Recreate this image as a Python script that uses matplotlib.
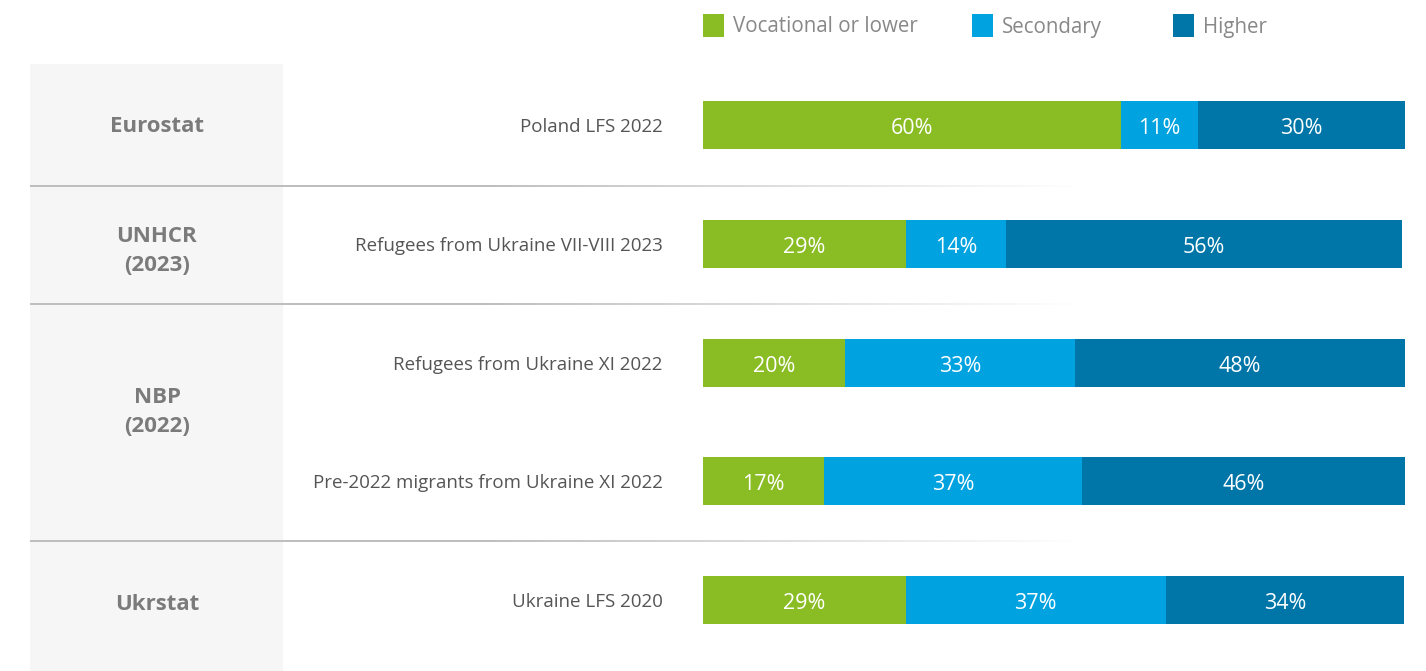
import numpy as np
import matplotlib.pyplot as plt
from matplotlib.collections import LineCollection
from matplotlib.patches import Rectangle

# data
categories = ["Poland LFS 2022",
              "Refugees from Ukraine VII-VIII 2023",
              "Refugees from Ukraine XI 2022",
              "Pre-2022 migrants from Ukraine XI 2022",
              "Ukraine LFS 2020"]
# shares
vocational = [59.7, 29.0, 20.3, 17.3, 29.0]
secondary = [11.0, 14.3, 32.9, 36.9, 37.1]
higher = [29.6, 56.6, 47.1, 46.1, 34.1]
# printed (rounded) labels
vocational_lbl = [60, 29, 20, 17, 29]
secondary_lbl = [11, 14, 33, 37, 37]
higher_lbl = [30, 56, 48, 46, 34]
series_names = ["Vocational or lower", "Secondary", "Higher"]
colors = ["#8abd24", "#00a3e0", "#0076a8"]

groups = ["Eurostat", "UNHCR\n(2023)", "NBP\n(2022)", "Ukrstat"]
group_y = [127, 251, 412, 605]      # pixel centre from top
sep_y = [186, 304, 541]

plt.rcParams['font.family'] = ['Open Sans', 'DejaVu Sans']

W, H = 1426, 671
fig = plt.figure(figsize=(W / 100, H / 100), dpi=100)

def fx(px):
    return px / W

def fy(py):
    return 1 - py / H

# grey panel on the left
fig.patches.append(Rectangle((fx(30), 0), fx(283) - fx(30), fy(64), transform=fig.transFigure,
                             facecolor="#f6f6f6", edgecolor="none", zorder=0))

# fading separator lines
xs = np.linspace(30, 1075, 200)
for sy in sep_y:
    segs = [[(fx(xs[i]), fy(sy)), (fx(xs[i + 1]), fy(sy))] for i in range(len(xs) - 1)]
    t = np.clip((xs[:-1] - 480) / (1080 - 480), 0, 1)
    g = 0.72 + (1 - 0.72) * t
    cols = np.column_stack([g, g, g, np.ones_like(g)])
    lc = LineCollection(segs, colors=cols, linewidths=1.3, transform=fig.transFigure, zorder=1)
    fig.add_artist(lc)

for lab, gy in zip(groups, group_y):
    fig.text(fx(157), fy(gy), lab, ha="center", va="center", fontsize=16,
             fontweight="bold", color="#7b7b7b", linespacing=1.5)

# bars
row_px = 118.75
top = -125 / row_px
bottom = (H - 125) / row_px
ax = fig.add_axes([fx(703), 0, fx(1405) - fx(703), 1])
ax.set_xlim(0, 100.3)
ax.set_ylim(bottom, top)
ax.patch.set_alpha(0)

ypos = np.arange(len(categories))
left = np.zeros(len(categories))
for vals, lbls, name, col in zip([vocational, secondary, higher],
                                 [vocational_lbl, secondary_lbl, higher_lbl],
                                 series_names, colors):
    vals = np.array(vals, dtype=float)
    ax.barh(ypos, vals, left=left, height=48 / row_px, color=col, label=name)
    for y, l, v, lb in zip(ypos, left, vals, lbls):
        ax.text(l + v / 2, y + 0.03, f"{lb}%", ha="center", va="center",
                color="white", fontsize=15.5)
    left += vals

ax.set_yticks(ypos)
ax.set_yticklabels(categories, fontsize=13.5, color="#555555")
ax.tick_params(axis="y", length=0, pad=29)
ax.set_xticks([])
for s in ax.spines.values():
    s.set_visible(False)

# legend
leg_x = [703, 972, 1173]
for lx, name, col in zip(leg_x, series_names, colors):
    fig.patches.append(Rectangle((fx(lx), fy(37)), fx(21), fy(14) - fy(37),
                                 transform=fig.transFigure, facecolor=col, edgecolor="none"))
    fig.text(fx(lx + 30), fy(27), name, ha="left", va="center", fontsize=14.8, color="#888888")

fig.savefig("out.png", dpi=100)
